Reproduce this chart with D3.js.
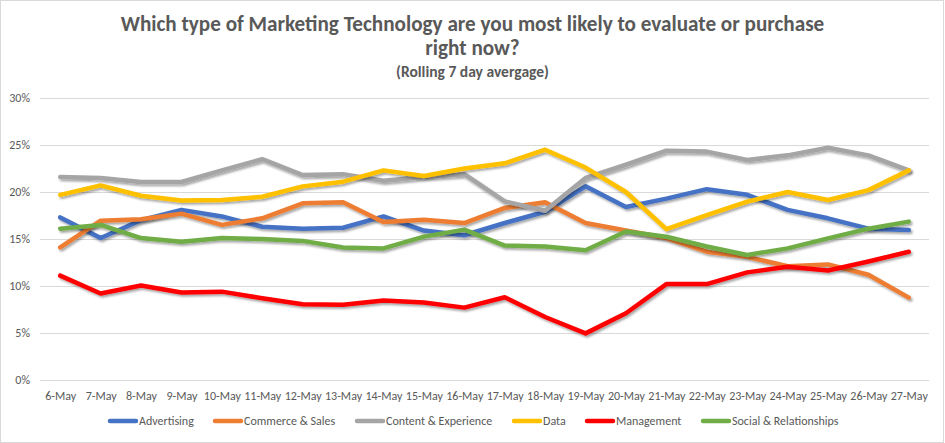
<!DOCTYPE html>
<html><head><meta charset="utf-8">
<script src="https://cdn.jsdelivr.net/npm/d3@7"></script>
<style>
body{margin:0;background:#fff;}
svg text{font-family:Carlito,"Liberation Sans Narrow","Liberation Sans",Arial,sans-serif;}
</style></head>
<body><svg id="c" width="945" height="443"></svg>
<script>
const categories = ["6-May","7-May","8-May","9-May","10-May","11-May","12-May","13-May","14-May","15-May","16-May","17-May","18-May","19-May","20-May","21-May","22-May","23-May","24-May","25-May","26-May","27-May"];
const seriesNames = ["Advertising","Commerce & Sales","Content & Experience","Data","Management","Social & Relationships"];
const advertising = [17.3,15.1,17.0,18.1,17.4,16.3,16.1,16.2,17.4,15.9,15.4,16.7,17.9,20.6,18.4,19.3,20.3,19.7,18.1,17.2,16.1,15.95];
const commerce    = [14.1,16.95,17.1,17.7,16.5,17.2,18.8,18.9,16.8,17.05,16.7,18.3,18.9,16.7,15.9,15.1,13.65,13.1,12.1,12.3,11.2,8.76];
const content     = [21.6,21.5,21.06,21.06,22.3,23.5,21.8,21.9,21.2,21.6,21.9,19.0,18.0,21.5,22.9,24.4,24.3,23.4,23.9,24.7,23.9,22.3];
const dataSeries  = [19.7,20.7,19.6,19.1,19.15,19.5,20.6,21.1,22.3,21.7,22.5,23.05,24.5,22.6,20.0,16.06,17.55,18.97,20.0,19.15,20.2,22.3];
const management  = [11.1,9.2,10.05,9.3,9.4,8.7,8.05,8.0,8.45,8.25,7.7,8.8,6.7,4.96,7.1,10.2,10.2,11.45,12.05,11.65,12.6,13.65];
const social      = [16.1,16.5,15.1,14.7,15.1,15.0,14.8,14.1,14.0,15.25,16.0,14.3,14.2,13.8,15.8,15.25,14.2,13.3,14.0,15.07,16.1,16.85];
const yTicks = [0,5,10,15,20,25,30];
const colors = ["#4472C4","#ED7D31","#A5A5A5","#FFC000","#FF0000","#70AD47"];
const allSeries = [advertising, commerce, content, dataSeries, management, social];

(function(){
const svg = d3.select("#c");
const W = 945, H = 443;
svg.append("rect").attr("x",0.5).attr("y",0.5).attr("width",W-2).attr("height",H-1)
  .attr("fill","#fff").attr("stroke","#d9d9d9");

const defs = svg.append("defs");
const f = defs.append("filter").attr("id","sh").attr("x","-5%").attr("y","-20%").attr("width","110%").attr("height","140%");
f.append("feDropShadow").attr("dx",1.5).attr("dy",2).attr("stdDeviation",1.3)
  .attr("flood-color","#000").attr("flood-opacity",0.35);

const mLeft = 40, mRight = 929, mTop = 98, mBottom = 380;
const x = d3.scalePoint().domain(categories).range([mLeft, mRight]).padding(0.5);
const y = d3.scaleLinear().domain([0,30]).range([mBottom, mTop]);

function fitText(sel, target){
  const w = sel.node().getComputedTextLength();
  const fs = parseFloat(sel.attr("font-size"));
  if (w > 0) sel.attr("font-size", fs*target/w);
}
const t1 = svg.append("text").attr("x",W/2).attr("y",31).attr("text-anchor","middle")
  .attr("font-size",19).attr("font-weight","bold").attr("fill","#595959")
  .text("Which type of Marketing Technology are you most likely to evaluate or purchase");
fitText(t1, 704);
const fsT = t1.attr("font-size");
svg.append("text").attr("x",W/2).attr("y",55).attr("text-anchor","middle")
  .attr("font-size",fsT).attr("font-weight","bold").attr("fill","#595959").text("right now?");
const t3 = svg.append("text").attr("x",W/2).attr("y",77).attr("text-anchor","middle")
  .attr("font-size",13).attr("font-weight","bold").attr("fill","#595959").text("(Rolling 7 day avergage)");
fitText(t3, 153);

const yAxis = d3.axisLeft(y).tickValues(yTicks).tickSize(-(mRight-mLeft)).tickFormat(d=>d+"%").tickPadding(10);
const gy = svg.append("g").attr("transform",`translate(${mLeft},0)`).call(yAxis);
gy.select(".domain").remove();
gy.selectAll(".tick line").attr("stroke","#d9d9d9").attr("stroke-width",1);
gy.selectAll(".tick text").attr("fill","#595959").attr("font-size",12);

const xAxis = d3.axisBottom(x).tickSize(0).tickPadding(11);
const gx = svg.append("g").attr("transform",`translate(0,${mBottom})`).call(xAxis);
gx.select(".domain").remove();
gx.selectAll(".tick text").attr("fill","#595959").attr("font-size",12);

const line = d3.line().x((d,i)=>x(categories[i])).y(d=>y(d));
svg.append("g").selectAll("path").data(allSeries).join("path")
  .attr("d", line).attr("fill","none").attr("stroke",(d,i)=>colors[i])
  .attr("stroke-width",4.5).attr("stroke-linejoin","round").attr("stroke-linecap","round")
  .attr("filter","url(#sh)");

const starts = [109,214,356,513,586,702];
const lg = svg.append("g");
seriesNames.forEach((n,i)=>{
  const gi = lg.append("g").attr("transform",`translate(${starts[i]},421)`);
  gi.append("line").attr("x1",1).attr("x2",27).attr("y1",0).attr("y2",0)
    .attr("stroke",colors[i]).attr("stroke-width",4.5).attr("stroke-linecap","round");
  gi.append("text").attr("x",30).attr("y",4).attr("font-size",12).attr("fill","#595959").text(n);
});
})();
</script></body></html>
